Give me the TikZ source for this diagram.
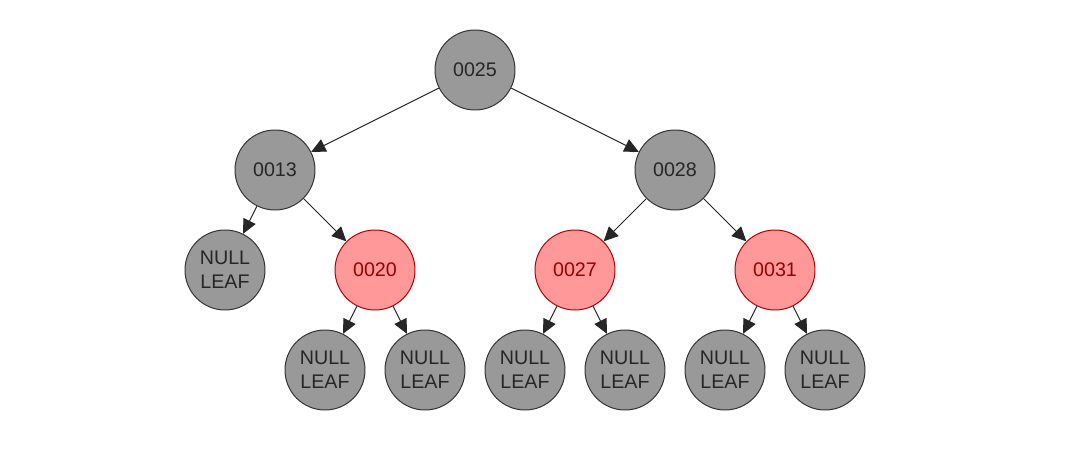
\documentclass[tikz,border=0pt]{standalone}
\usepackage{fontspec}
\setmainfont{Liberation Sans}
\usepackage{tikz}
\usetikzlibrary{arrows.meta, positioning}
\definecolor{nodegray}{HTML}{999999}
\definecolor{nodered}{HTML}{FF9999}
\definecolor{redline}{HTML}{B20000}
\definecolor{redtext}{HTML}{990000}
\tikzset{
    rbnode/.style={circle, draw=black!80, line width=0.7pt, minimum size=2cm, inner sep=0pt,
        font=\fontsize{14}{17}\selectfont, align=center},
    blk/.style={rbnode, fill=nodegray, text=black!85},
    red/.style={rbnode, fill=nodered, draw=redline, text=redtext},
    nil/.style={blk},
    edge/.style={-{Triangle[length=0.36cm, width=0.34cm]}, line width=0.7pt, black!85}
}

\begin{document}
\begin{tikzpicture}[
  on grid,
  node distance=2.5cm and 5cm
]
\useasboundingbox (0,0) rectangle (26.95,-11.75);

% Nodes
\node[blk] (n25) at (11.875,-1.75) {0025};

\node[blk, below left=of n25]  (n13) {0013};
\node[blk, below right=of n25] (n28) {0028};

\node[nil, below left=2.5cm and 1.25cm of n13] (l13) {NULL\\LEAF};
\node[red, below right=2.5cm and 2.5cm of n13] (n20) {0020};
\node[red, below left=2.5cm and 2.5cm of n28]  (n27) {0027};
\node[red, below right=2.5cm and 2.5cm of n28] (n31) {0031};

\node[nil, below left=2.5cm and 1.25cm of n20]  (l20a) {NULL\\LEAF};
\node[nil, below right=2.5cm and 1.25cm of n20] (l20b) {NULL\\LEAF};
\node[nil, below left=2.5cm and 1.25cm of n27]  (l27a) {NULL\\LEAF};
\node[nil, below right=2.5cm and 1.25cm of n27] (l27b) {NULL\\LEAF};
\node[nil, below left=2.5cm and 1.25cm of n31]  (l31a) {NULL\\LEAF};
\node[nil, below right=2.5cm and 1.25cm of n31] (l31b) {NULL\\LEAF};

% Edges
\draw[edge] (n25) -- (n13);
\draw[edge] (n25) -- (n28);
\draw[edge] (n13) -- (l13);
\draw[edge] (n13) -- (n20);
\draw[edge] (n28) -- (n27);
\draw[edge] (n28) -- (n31);
\draw[edge] (n20) -- (l20a);
\draw[edge] (n20) -- (l20b);
\draw[edge] (n27) -- (l27a);
\draw[edge] (n27) -- (l27b);
\draw[edge] (n31) -- (l31a);
\draw[edge] (n31) -- (l31b);
\end{tikzpicture}
\end{document}
